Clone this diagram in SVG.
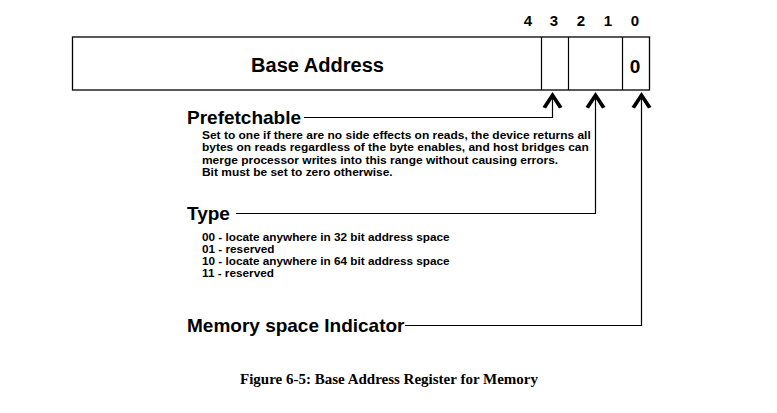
<svg xmlns="http://www.w3.org/2000/svg" width="777" height="413" viewBox="0 0 777 413">
<defs>
<style>
.box{fill:#fff;stroke:#000;stroke-width:1.3}
.ln{fill:none;stroke:#000;stroke-width:1.2}
.ah{fill:#000;stroke:none}
.t{font-family:"Liberation Sans",Arial,sans-serif;fill:#000}
.b{font-weight:bold}
.lab{font-size:19px;font-weight:bold}
.small{font-size:11px;font-weight:bold}
.list{font-size:10.7px;font-weight:bold}
.bit{font-size:15px;font-weight:bold}
.cap{font-family:"Liberation Serif","Times New Roman",serif;font-size:14.5px;font-weight:bold;fill:#000}
</style>
</defs>
<rect width="777" height="413" fill="#fff"/>
<g id="bitnumbers" class="t bit" text-anchor="middle">
<text x="528" y="26">4</text>
<text x="554" y="26">3</text>
<text x="581" y="26">2</text>
<text x="608" y="26">1</text>
<text x="635" y="26">0</text>
</g>
<g id="register">
<rect class="box" x="72.5" y="37" width="577" height="53"/>
<line class="ln" x1="541.5" y1="37" x2="541.5" y2="90"/>
<line class="ln" x1="568.5" y1="37" x2="568.5" y2="90"/>
<line class="ln" x1="622.5" y1="37" x2="622.5" y2="90"/>
<text class="t b" x="251" y="71.5" font-size="19.5" textLength="133" lengthAdjust="spacingAndGlyphs">Base Address</text>
<text class="t b" x="635" y="73" font-size="19" text-anchor="middle">0</text>
</g>
<g id="connectors">
<polyline class="ln" points="304,117.5 552.5,117.5 552.5,98"/>
<polyline class="ln" points="236,213.5 595.5,213.5 595.5,98"/>
<polyline class="ln" points="405,325.5 641.5,325.5 641.5,98"/>
<polygon class="ah" points="552.5,92 562.5,107 559,108.5 552.5,98.5 546,108.5 542.5,107"/>
<polygon class="ah" points="595.5,92 605.5,107 602,108.5 595.5,98.5 589,108.5 585.5,107"/>
<polygon class="ah" points="641.5,92 651.5,107 648,108.5 641.5,98.5 635,108.5 631.5,107"/>
</g>
<g id="prefetchable">
<text class="t lab" x="187" y="124">Prefetchable</text>
<g transform="matrix(1.088,0,0,1,-17.78,0)">
<text class="t small" x="202" y="139">Set to one if there are no side effects on reads, the device returns all</text>
<text class="t small" x="202" y="151.5">bytes on reads regardless of the byte enables, and host bridges can</text>
<text class="t small" x="202" y="164">merge processor writes into this range without causing errors.</text>
<text class="t small" x="202" y="176.5">Bit must be set to zero otherwise.</text>
</g>
</g>
<g id="type">
<text class="t lab" x="187" y="220">Type</text>
<g transform="matrix(1.1,0,0,1,-20.2,0)">
<text class="t list" x="202" y="241">00 - locate anywhere in 32 bit address space</text>
<text class="t list" x="202" y="253">01 - reserved</text>
<text class="t list" x="202" y="265">10 - locate anywhere in 64 bit address space</text>
<text class="t list" x="202" y="277">11 - reserved</text>
</g>
</g>
<g id="memory">
<text class="t lab" x="187" y="332">Memory space Indicator</text>
</g>
<g id="caption">
<text class="cap" x="240" y="384" textLength="298" lengthAdjust="spacingAndGlyphs">Figure 6-5:  Base Address Register for Memory</text>
</g>
</svg>
